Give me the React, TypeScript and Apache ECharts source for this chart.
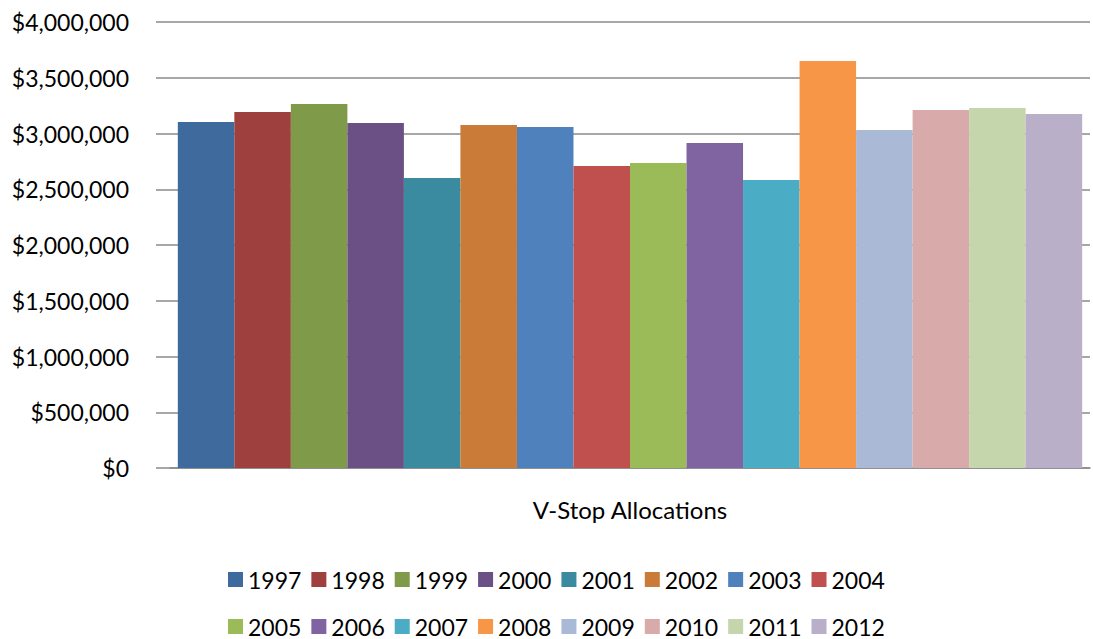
import React, { useEffect, useRef } from "react";
import * as echarts from "echarts";

const categories = ["V-Stop Allocations"];
const years = ["1997","1998","1999","2000","2001","2002","2003","2004","2005","2006","2007","2008","2009","2010","2011","2012"];
const values = [3103000, 3193000, 3265000, 3094000, 2601000, 3076000, 3058000, 2709000, 2735000, 2915000, 2583000, 3650000, 3031000, 3211000, 3229000, 3175000];
const colors = ["#3F6A9E","#9E413E","#7F9A48","#6A5084","#3A8B9F","#CB7B38","#4F81BD","#C0504D","#9BBB59","#8064A2","#4BACC6","#F79646","#AAB9D6","#D9AAAA","#C6D6AC","#BAAFC9"];
const yTicks = [0, 500000, 1000000, 1500000, 2000000, 2500000, 3000000, 3500000, 4000000];

const FONT = "Lato, 'Open Sans', sans-serif";

export default function App() {
  const ref = useRef<HTMLDivElement>(null);
  useEffect(() => {
    const chart = echarts.init(ref.current!, null, { renderer: "svg" });
    const legendText = { fontFamily: FONT, fontSize: 23, lineHeight: 22, color: "#000" };
    const legendCommon = {
      orient: "horizontal",
      icon: "rect",
      itemWidth: 15,
      itemHeight: 15,
      itemGap: 10,
      padding: 0,
      textStyle: legendText,
      left: 228,
      selectedMode: false,
    };
    chart.setOption({
      animation: false,
      color: colors,
      grid: { left: 170, right: 3, top: 22, bottom: 171, containLabel: false },
      xAxis: {
        type: "category",
        data: categories,
        axisLine: { show: true, lineStyle: { color: "#8a8a8a", width: 1.5 } },
        axisTick: { show: false },
        axisLabel: { fontFamily: FONT, fontSize: 24, color: "#000", margin: 29 },
      },
      yAxis: {
        type: "value",
        min: 0,
        max: yTicks[yTicks.length - 1],
        interval: yTicks[1] - yTicks[0],
        axisLine: { show: false },
        axisTick: { show: true, length: 14, lineStyle: { color: "#8a8a8a", width: 1.5 } },
        splitLine: { show: true, lineStyle: { color: "#8a8a8a", width: 1.5 } },
        axisLabel: {
          fontFamily: FONT,
          fontSize: 23,
          color: "#000",
          margin: 41,
          formatter: (v: number) => "$" + v.toLocaleString("en-US"),
        },
      },
      legend: [
        { ...legendCommon, top: 568, data: years.slice(0, 8) },
        { ...legendCommon, top: 615, data: years.slice(8) },
      ],
      series: years.map((y, i) => ({
        name: y,
        type: "bar",
        data: [values[i]],
        barGap: "0%",
        barCategoryGap: "1.7%",
        itemStyle: { color: colors[i] },
      })),
    });
    return () => chart.dispose();
  }, []);
  return <div ref={ref} style={{ width: 1093, height: 639, position: "absolute", left: 0, top: 0 }} />;
}
